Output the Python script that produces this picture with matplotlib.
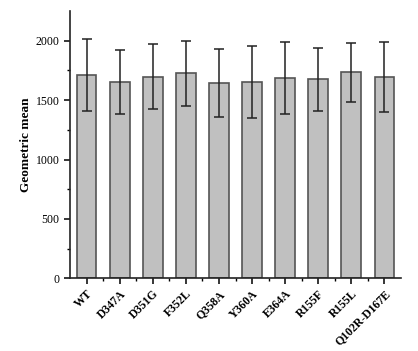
import matplotlib
matplotlib.use("Agg")
import matplotlib.pyplot as plt
import numpy as np

variants = ["WT", "D347A", "D351G", "F352L", "Q358A", "Y360A",
            "E364A", "R155F", "R155L", "Q102R-D167E"]
geo_mean = [1714, 1653, 1695, 1728, 1641, 1653, 1686, 1678, 1734, 1695]
err_low = [1405, 1383, 1422, 1447, 1354, 1346, 1380, 1408, 1487, 1397]
err_high = [2018, 1925, 1976, 2001, 1934, 1953, 1990, 1939, 1978, 1990]

plt.rcParams["font.family"] = ["Liberation Serif", "DejaVu Serif"]

fig = plt.figure(figsize=(4.18, 3.51), dpi=100)
ax = fig.add_axes([70 / 418, (351 - 278.3) / 351, (401 - 70) / 418, (278.3 - 11) / 351])

x = np.arange(len(variants))
mean = np.array(geo_mean)
yerr = [mean - np.array(err_low), np.array(err_high) - mean]
ax.bar(x, mean, width=0.6, color="#c0c0c0", edgecolor="#555555", linewidth=1.2, zorder=2)
ax.errorbar(x, mean, yerr=yerr, fmt="none", ecolor="#222222", elinewidth=1.1,
            capsize=3.5, capthick=1.1, zorder=3)

ax.set_xlim(-0.5, len(variants) - 0.5)
ax.set_ylim(0, 2250)
ax.set_yticks([0, 500, 1000, 1500, 2000])
ax.set_yticks(np.arange(250, 2250, 500), minor=True)
ax.set_xticks(x)
ax.set_xticks(x[:-1] + 0.5, minor=True)
ax.set_xticklabels(variants, rotation=45, ha="right", rotation_mode="anchor",
                   fontsize=8.5, fontweight="bold")
ax.tick_params(axis="y", labelsize=8.5, direction="out", length=4, width=1.1)
ax.tick_params(axis="y", which="minor", length=2.5, width=1)
ax.tick_params(axis="x", direction="out", length=4, width=1.1, pad=3)
ax.tick_params(axis="x", which="minor", length=2.5, width=1)
ax.set_ylabel("Geometric mean", fontsize=9.5, fontweight="bold", labelpad=3)

for side in ["top", "right"]:
    ax.spines[side].set_visible(False)
for side in ["left", "bottom"]:
    ax.spines[side].set_linewidth(1.2)
    ax.spines[side].set_color("#222222")

fig.savefig("out.png", dpi=100)
